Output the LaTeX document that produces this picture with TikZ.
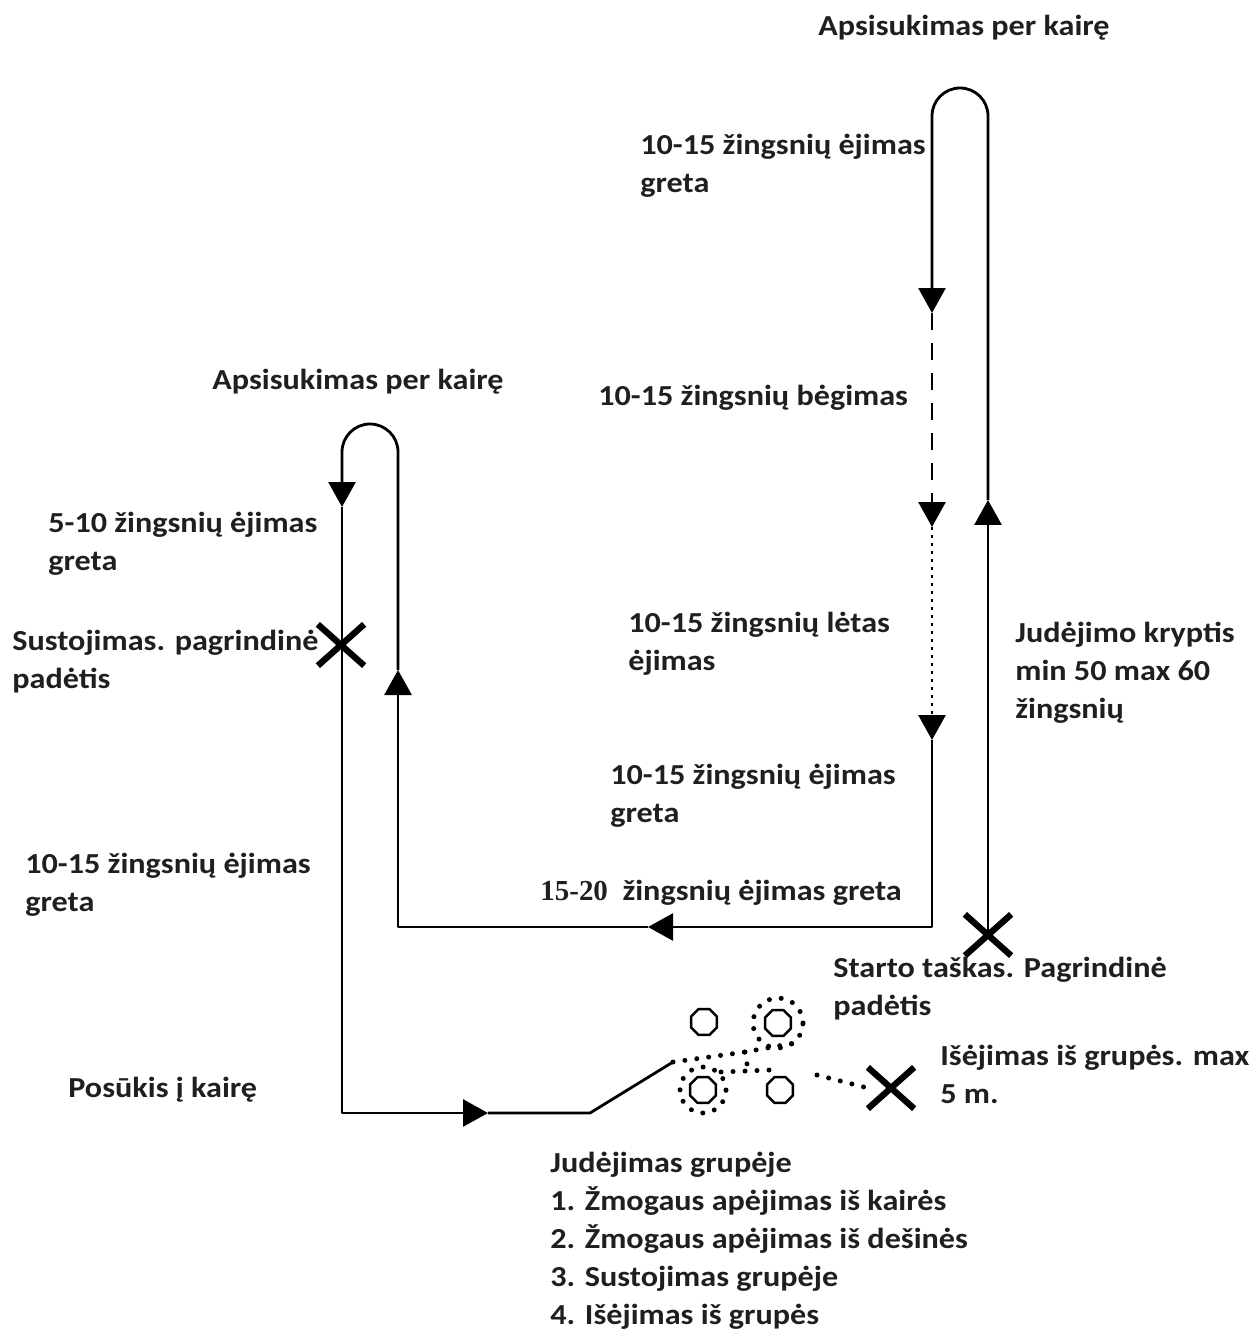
\documentclass[tikz,border=0pt]{standalone}
\usepackage{fontspec}
\setmainfont{Carlito}[FakeStretch=1.11]
\newfontfamily\serifbf{Liberation Serif}
\usetikzlibrary{arrows.meta, positioning, shapes.geometric, shapes.misc}

\begin{document}
\begin{tikzpicture}[
	x=0.02cm, y=-0.02cm,
	line/.style = {line width=1.6pt, line join=round},
	tip/.style = {line width=1.6pt, line join=round, -{Triangle[length=0.5cm, width=0.54cm]}},
	dashline/.style = {line width=1.6pt, dash pattern=on 0.34cm off 0.26cm, -{Triangle[length=0.5cm, width=0.54cm]}},
	dotline/.style = {line width=1.6pt, dash pattern=on 0.06cm off 0.1cm, -{Triangle[length=0.5cm, width=0.54cm]}},
	dots/.style = {line width=0.1cm, line cap=round, dash pattern=on 0pt off 0.24cm},
	note/.style = {font=\bfseries\fontsize{16.5}{21.6}\selectfont, text=black!88, align=left, anchor=west, inner sep=0pt},
	xmark/.style = {draw, cross out, line width=3.6pt, minimum width=0.8cm, minimum height=0.7cm, inner sep=0pt},
	person/.style = {draw, regular polygon, regular polygon sides=8, minimum size=0.56cm, inner sep=0pt, line width=1.4pt},
	ring/.style = {draw, circle, line width=0.1cm, line cap=round, dash pattern=on 0pt off 0.24cm, minimum size=1cm}
]
\useasboundingbox (0,0) rectangle (1250,1334);

% route points
\node[xmark] (start) at (988,935) {};
\coordinate (up1) at (988,500);
\coordinate (top1) at (988,116);
\coordinate (dn1) at (932,313);
\coordinate (dn2) at (932,527);
\coordinate (dn3) at (932,740);
\coordinate (c1) at (932,927);
\coordinate (lf1) at (648,927);
\coordinate (c2) at (398,927);
\coordinate (up2) at (398,670);
\coordinate (top2) at (398,452);
\coordinate (dn4) at (342,507);
\coordinate (c3) at (342,1113);
\coordinate (rt1) at (488,1113);
\coordinate (c4) at (590,1113);
\coordinate (gin) at (673,1062);
\node[xmark] (stop) at (341,645) {};

\draw[tip] (start.center) -- (up1);
\draw[tip] (up1) -- (top1) arc[start angle=0, end angle=-180, radius=28] -- (dn1);
\draw[dashline] (dn1) -- (dn2);
\draw[dotline] (dn2) -- (dn3);
\draw[tip] (dn3) -- (c1) -- (lf1);
\draw[tip] (lf1) -- (c2) -- (up2);
\draw[tip] (up2) -- (top2) arc[start angle=0, end angle=-180, radius=28] -- (dn4);
\draw[tip] (dn4) -- (c3) -- (rt1);
\draw[line] (rt1) -- (c4) -- (gin);

% group
\node[person] (p1) at (704,1022) {};
\node[person] (p2) at (778,1023) {};
\node[person] (p3) at (703,1090) {};
\node[person] (p4) at (780,1090) {};
\node[ring] (r2) at (p2) {};
\node[ring, minimum size=0.92cm] (r3) at (p3) {};
\coordinate (j) at (745,1052);
\coordinate (j2) at (748,1070);
\node[xmark] (out) at (891,1088) {};
\draw[dots] (gin) -- (j) -- (r2.south east);
\draw[dots] (j) -- (j2);
\draw[dots] (r3.north east) -- (770,1070);
\draw[dots] (817,1075) -- (out.west);

% texts
\node[note] (t1) at (818,28) {Apsisukimas per kairę};
\node[note] (t2) at (640,166) {10-15 žingsnių ėjimas\\greta};
\node[note] (t3) at (212,382) {Apsisukimas per kairę};
\node[note] (t4) at (598,398) {10-15 žingsnių bėgimas};
\node[note] (t5) at (48,544) {5-10 žingsnių ėjimas\\greta};
\node[note] (t6) at (628,644) {10-15 žingsnių lėtas\\ėjimas};
\node[note] (t7) at (1015,673) {Judėjimo kryptis\\min 50 max 60\\žingsnių};
\node[note] (t8) at (12,662) {Sustojimas. pagrindinė\\padėtis};
\node[note] (t9) at (610,796) {10-15 žingsnių ėjimas\\greta};
\node[note] (t10) at (25,885) {10-15 žingsnių ėjimas\\greta};
\node[note] (t11) at (540,893) {{\serifbf 15-20}\ \ žingsnių ėjimas greta};
\node[note] (t12) at (833,989) {Starto taškas. Pagrindinė\\padėtis};
\node[note] (t13) at (940,1074) {Išėjimas iš grupės. max\\5 m.};
\node[note] (t14) at (68,1090) {Posūkis į kairę};
\node[note] (t15) at (550,1241) {Judėjimas grupėje\\1. Žmogaus apėjimas iš kairės\\2. Žmogaus apėjimas iš dešinės\\3. Sustojimas grupėje\\4. Išėjimas iš grupės};
\end{tikzpicture}
\end{document}
